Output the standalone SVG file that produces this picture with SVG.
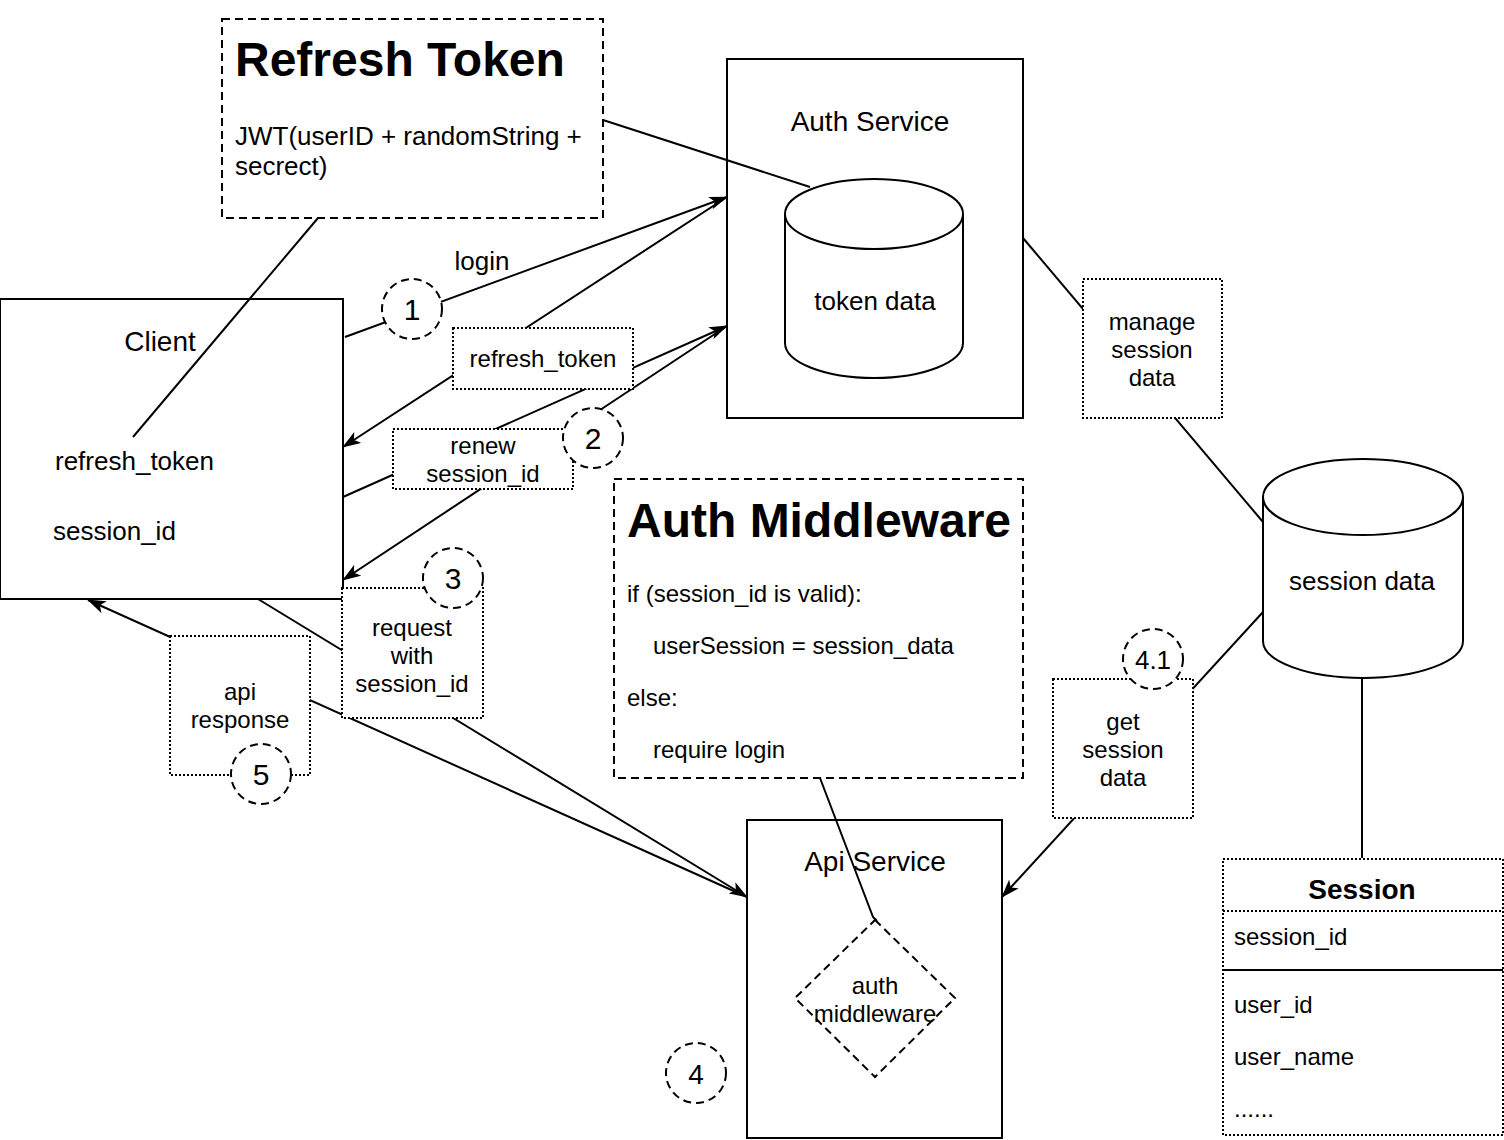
<svg xmlns="http://www.w3.org/2000/svg" width="1504" height="1140" viewBox="0 0 1504 1140">
<defs>
<marker id="arr" viewBox="0 0 20 14" refX="19" refY="7" markerWidth="19" markerHeight="13" markerUnits="userSpaceOnUse" orient="auto">
<path d="M0,0 L20,7 L0,14 L5,7 Z" fill="#000"/>
</marker>
</defs>
<style>
text{font-family:"Liberation Sans",Arial,Helvetica,sans-serif;font-size:24px;fill:#000}
.c{text-anchor:middle}
.b{font-weight:bold}
.solid{fill:#fff;stroke:#000;stroke-width:2}
.dash{fill:#fff;stroke:#000;stroke-width:2;stroke-dasharray:8 5}
.dot{fill:#fff;stroke:#000;stroke-width:2;stroke-dasharray:2 2}
.ln{fill:none;stroke:#000;stroke-width:2}
.num{font-size:30px;text-anchor:middle}
</style>
<rect width="1504" height="1140" fill="#fff"/>

<g id="refresh-token-note">
<rect class="dash" x="222" y="19" width="381" height="199"/>
<text class="b" x="235" y="76" style="font-size:48px">Refresh Token</text>
<text x="235" y="145" style="font-size:26px">JWT(userID + randomString +</text>
<text x="235" y="175" style="font-size:26px">secrect)</text>
</g>

<g id="auth-service">
<rect class="solid" x="727" y="59" width="296" height="359"/>
<text class="c" x="870" y="131" style="font-size:28px">Auth Service</text>
</g>

<g id="client">
<rect class="solid" x="0" y="299" width="343" height="300"/>
<text class="c" x="160" y="351" style="font-size:28px">Client</text>
<text x="55" y="470" style="font-size:26px">refresh_token</text>
<text x="53" y="540" style="font-size:26px">session_id</text>
</g>

<g id="auth-middleware-note">
<rect class="dash" x="614" y="479" width="409" height="299"/>
<text class="b" x="627" y="537" style="font-size:48px">Auth Middleware</text>
<text x="627" y="602">if (session_id is valid):</text>
<text x="653" y="654">userSession = session_data</text>
<text x="627" y="706">else:</text>
<text x="653" y="758">require login</text>
</g>

<g id="api-service">
<rect class="solid" x="747" y="820" width="255" height="318"/>
<text class="c" x="875" y="871" style="font-size:28px">Api Service</text>
</g>

<g id="connectors">
<line class="ln" x1="318" y1="218" x2="133" y2="437"/>
<line class="ln" x1="603" y1="120" x2="810" y2="187"/>
<line class="ln" x1="345" y1="337" x2="727" y2="197" marker-end="url(#arr)"/>
<line class="ln" x1="727" y1="197" x2="343" y2="447" marker-end="url(#arr)"/>
<line class="ln" x1="343" y1="497" x2="727" y2="326" marker-end="url(#arr)"/>
<line class="ln" x1="727" y1="326" x2="343" y2="580" marker-end="url(#arr)"/>
<line class="ln" x1="258" y1="599" x2="747" y2="897" marker-end="url(#arr)"/>
<line class="ln" x1="747" y1="897" x2="88" y2="600" marker-end="url(#arr)"/>
<line class="ln" x1="1023" y1="238" x2="1263" y2="522"/>
<line class="ln" x1="1263" y1="612" x2="1002" y2="897" marker-end="url(#arr)"/>
<line class="ln" x1="1362" y1="678" x2="1362" y2="858"/>
<polyline class="ln" points="820,778 873,917 877,921"/>
</g>

<g id="token-data">
<path class="solid" d="M785,214 A89,35 0 0 1 963,214 L963,343 A89,35 0 0 1 785,343 Z"/>
<path class="ln" d="M785,214 A89,35 0 0 0 963,214"/>
<text class="c" x="875" y="310" style="font-size:26px">token data</text>
</g>

<g id="label-login">
<text class="c" x="482" y="270" style="font-size:26px">login</text>
</g>

<g id="step-1">
<circle class="dash" cx="412" cy="309" r="30"/>
<text class="num" x="412" y="320">1</text>
</g>

<g id="label-refresh-token">
<rect class="dot" x="453" y="328" width="180" height="61"/>
<text class="c" x="543" y="367">refresh_token</text>
</g>

<g id="label-renew">
<rect class="dot" x="393" y="429" width="180" height="60"/>
<text class="c" x="483" y="454">renew</text>
<text class="c" x="483" y="482">session_id</text>
</g>

<g id="step-2">
<circle class="dash" cx="593" cy="438" r="30"/>
<text class="num" x="593" y="449">2</text>
</g>

<g id="label-request">
<rect class="dot" x="342" y="588" width="141" height="130"/>
<text class="c" x="412" y="636">request</text>
<text class="c" x="412" y="664">with</text>
<text class="c" x="412" y="692">session_id</text>
</g>

<g id="step-3">
<circle class="dash" cx="453" cy="578" r="30"/>
<text class="num" x="453" y="589">3</text>
</g>

<g id="label-api-response">
<rect class="dot" x="170" y="636" width="140" height="139"/>
<text class="c" x="240" y="700">api</text>
<text class="c" x="240" y="728">response</text>
</g>

<g id="step-5">
<circle class="dash" cx="261" cy="774" r="30"/>
<text class="num" x="261" y="785">5</text>
</g>

<g id="manage-session-data">
<rect class="dot" x="1083" y="279" width="139" height="139"/>
<text class="c" x="1152" y="330">manage</text>
<text class="c" x="1152" y="358">session</text>
<text class="c" x="1152" y="386">data</text>
</g>

<g id="session-data">
<path class="solid" d="M1263,497 A100,38 0 0 1 1463,497 L1463,641 A100,37 0 0 1 1263,641 Z"/>
<path class="ln" d="M1263,497 A100,38 0 0 0 1463,497"/>
<text class="c" x="1362" y="590" style="font-size:26px">session data</text>
</g>

<g id="get-session-data">
<rect class="dot" x="1053" y="679" width="140" height="139"/>
<text class="c" x="1123" y="730">get</text>
<text class="c" x="1123" y="758">session</text>
<text class="c" x="1123" y="786">data</text>
</g>

<g id="step-4-1">
<circle class="dash" cx="1153" cy="659" r="30"/>
<text class="num" x="1153" y="669" style="font-size:26px">4.1</text>
</g>

<g id="auth-middleware">
<polygon class="dash" points="875,920 955,998 875,1077 795,998"/>
<text class="c" x="875" y="994">auth</text>
<text class="c" x="875" y="1022">middleware</text>
</g>

<g id="step-4">
<circle class="dash" cx="696" cy="1073" r="30"/>
<text class="num" x="696" y="1084" style="font-size:28px">4</text>
</g>

<g id="session-table">
<rect class="dot" x="1223" y="859" width="280" height="276"/>
<line class="dot" x1="1223" y1="911" x2="1503" y2="911"/>
<line class="ln" x1="1223" y1="970" x2="1503" y2="970"/>
<text class="c b" x="1362" y="899" style="font-size:28px">Session</text>
<text x="1234" y="945">session_id</text>
<text x="1234" y="1013">user_id</text>
<text x="1234" y="1065">user_name</text>
<text x="1234" y="1117">......</text>
</g>
</svg>
